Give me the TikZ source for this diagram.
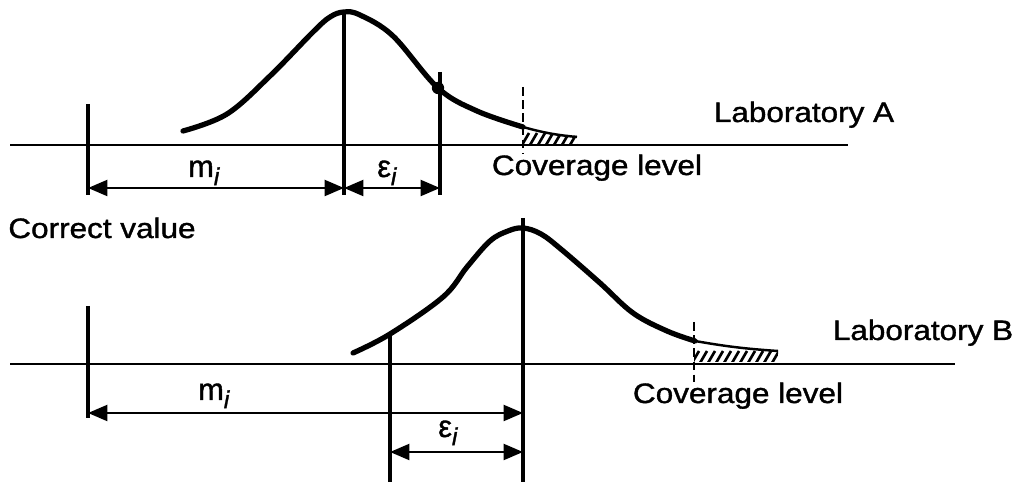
\documentclass[tikz,border=0pt]{standalone}
\usepackage{fontspec}
\setmainfont{Liberation Sans}[FakeBold=1.2]
\usetikzlibrary{arrows.meta, positioning, calc}
\newcommand{\lowidx}[1]{\raisebox{-0.5ex}{\fontsize{14}{14}\selectfont\textit{#1}}}
\tikzset{
  every picture/.style={x=0.02cm, y=-0.02cm, line width=1.4pt},
  lbl/.style={font=\fontsize{16}{19}\selectfont, xscale=1.12, inner sep=0pt, anchor=base},
  sym/.style={font=\fontsize{17.5}{20}\selectfont, inner sep=0pt, anchor=base west},
  base/.style={line width=1.1pt},
  tickline/.style={line width=1.8pt},
  bell/.style={line width=3pt, line cap=round},
  cover/.style={line width=1.1pt, dash pattern=on 5pt off 2.5pt},
  hatch/.style={line width=1.5pt},
  dim/.style={{Triangle[length=11pt, width=9pt]}-{Triangle[length=11pt, width=9pt]}, line width=1.5pt},
  dot/.style={circle, fill, inner sep=0pt, minimum size=7pt},
}
\begin{document}
\begin{tikzpicture}
  \useasboundingbox (0,0) rectangle (1022,482);
  % laboratory A
  \draw[base] (10,145) -- (848,145);
  \coordinate (cvA) at (88,188);
  \coordinate (pkA) at (344,188);
  \coordinate (epA) at (440,188);
  \draw[tickline] (88,104) -- (88,195);
  \draw[tickline] (344,10) -- (344,195);
  \draw[tickline] (440,72) -- (440,195);
  \draw[bell] plot[smooth, tension=0.6] coordinates {(183,131) (227,114) (270,76) (313,32) (330,17) (344,12) (360,15) (393,36) (438,88) (477,111) (523,127)};
  \draw[line width=1.4pt] (523,127) to[bend right=5] (577,137);
  \node[dot] (dtA) at (438,88) {};
  \draw[cover] (523,87) -- (523,153);
  \begin{scope}
    \clip (523,144) -- (523,127) -- (550,133) -- (577,136) -- (577,144) -- cycle;
    \foreach \x in {522,530,...,578}
      \draw[hatch] (\x,145) -- ++(7,-12);
  \end{scope}
  \draw[dim] (cvA) -- (pkA);
  \draw[dim] (pkA) -- (epA);
  \node[sym] (mA) at (187,177) {m\lowidx{i}};
  \node[sym] (eA) at (376,177) {ε\lowidx{i}};
  \node[lbl] (covA) at (597,175) {Coverage level};
  \node[lbl] (labA) at (804,122) {Laboratory A};
  \node[lbl] (cval) at (102,238) {Correct value};
  % laboratory B
  \draw[base] (10,364) -- (955,364);
  \coordinate (cvB) at (88,413);
  \coordinate (pkB) at (523,413);
  \coordinate (epB) at (390,452);
  \coordinate (pkB2) at (523,452);
  \draw[tickline] (88,306) -- (88,418);
  \draw[tickline] (523,218) -- (523,482);
  \draw[tickline] (390,332) -- (390,482);
  \draw[bell] plot[smooth, tension=0.6] coordinates {(353,353) (390,334) (443,297) (467,267) (490,241) (508,231) (523,228) (541,234) (562,250) (600,283) (633,313) (667,331) (695,341)};
  \draw[line width=1.4pt] (695,341) to[bend right=3] (778,351);
  \draw[cover] (694,322) -- (694,382);
  \begin{scope}
    \clip (694,362) -- (694,341) -- (740,348) -- (778,351) -- (778,362) -- cycle;
    \foreach \x in {692,700,...,780}
      \draw[hatch] (\x,363) -- ++(7,-12);
  \end{scope}
  \draw[dim] (cvB) -- (pkB);
  \draw[dim] (epB) -- (pkB2);
  \node[sym] (mB) at (197,400) {m\lowidx{i}};
  \node[sym] (eB) at (437,437) {ε\lowidx{i}};
  \node[lbl] (covB) at (738,403) {Coverage level};
  \node[lbl] (labB) at (923,340) {Laboratory B};
\end{tikzpicture}
\end{document}
